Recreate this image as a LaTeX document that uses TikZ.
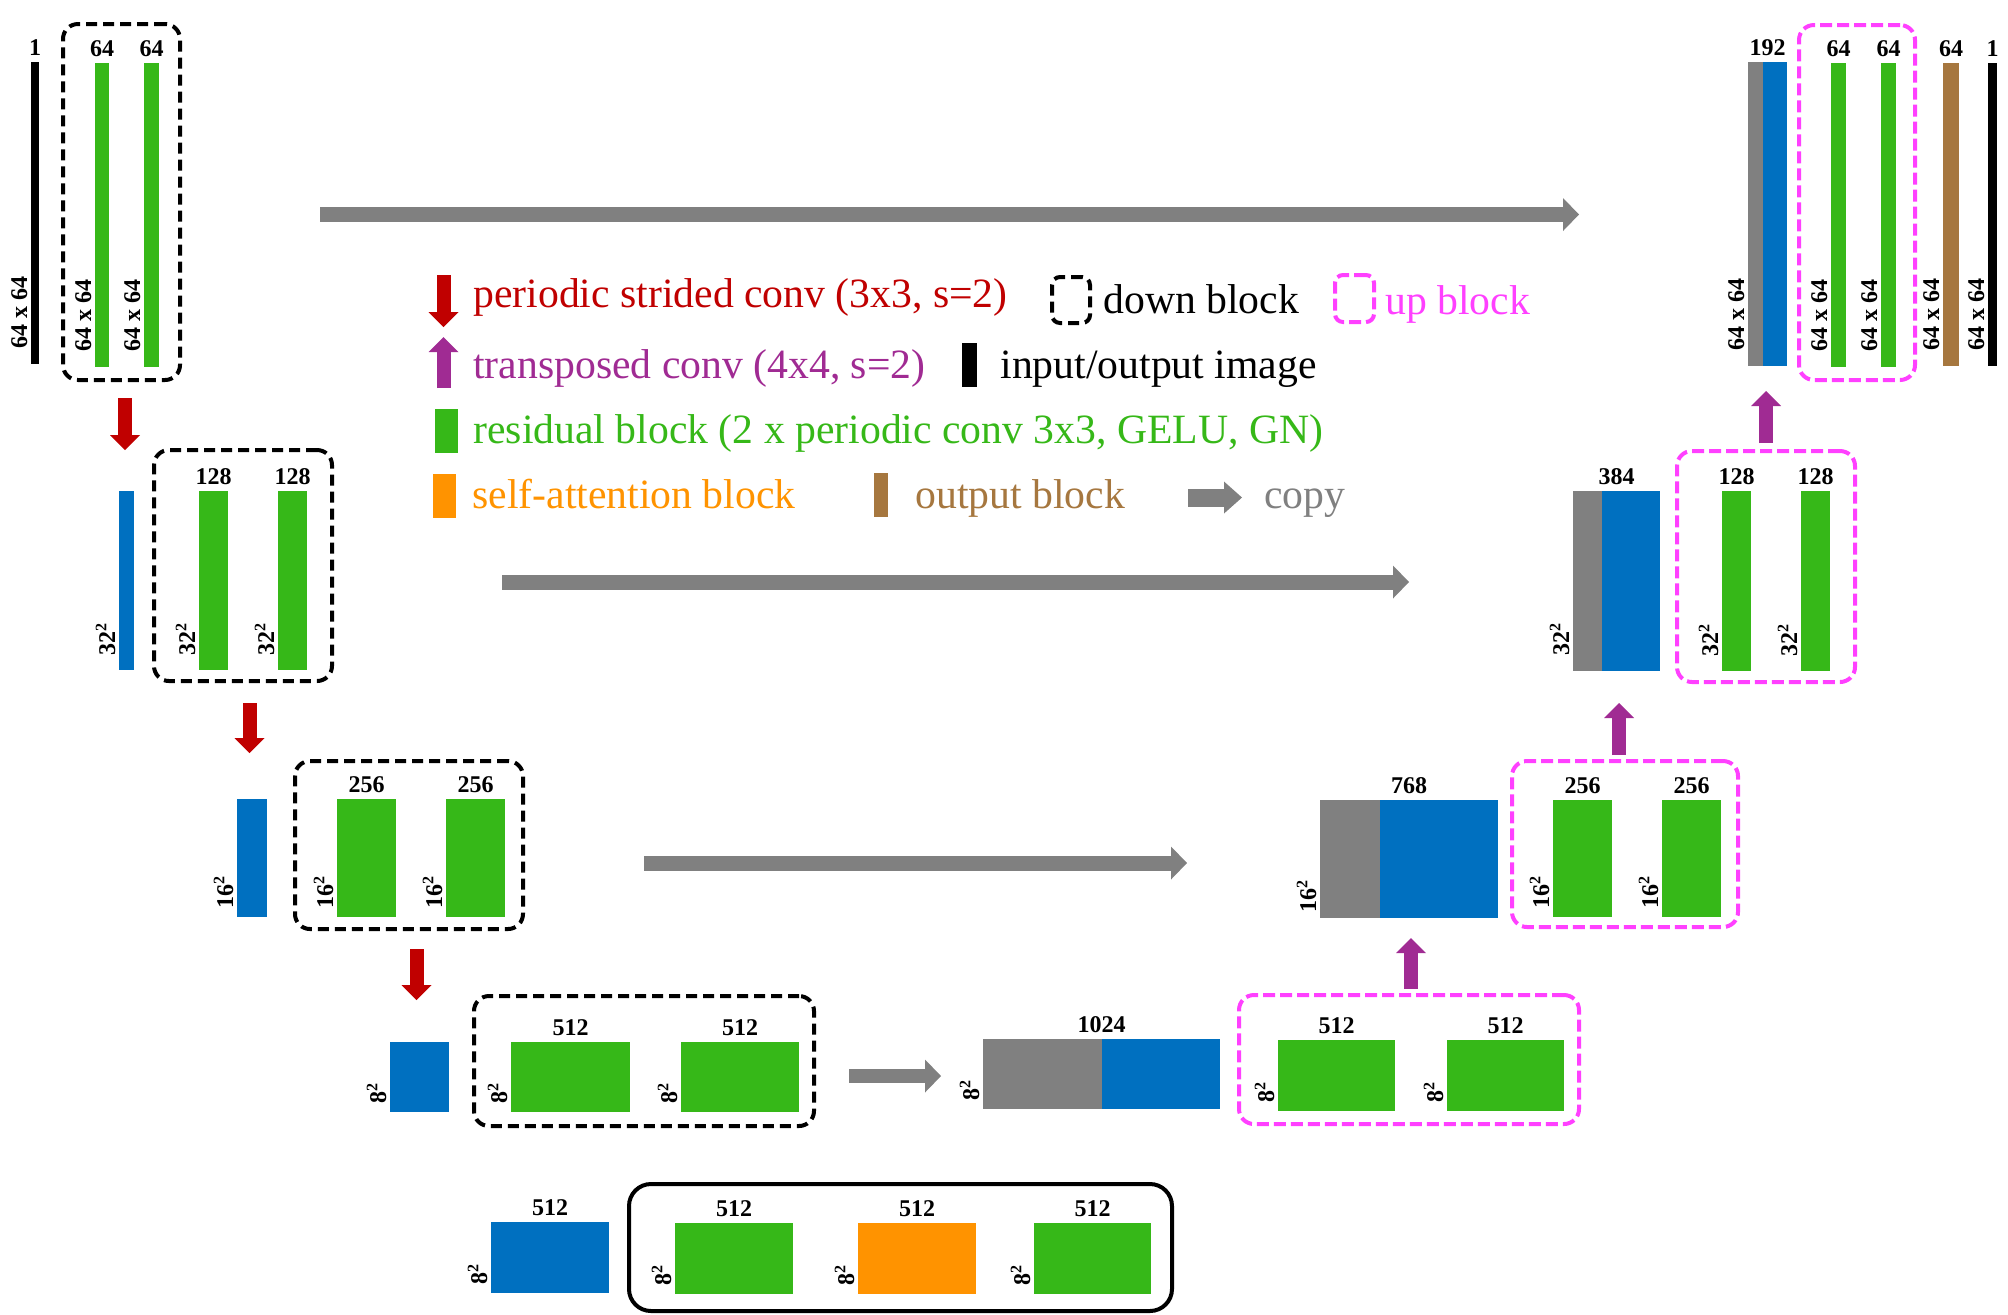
\documentclass[tikz,border=0pt]{standalone}
\usepackage{fontspec}
\setmainfont{Liberation Serif}
\usetikzlibrary{arrows.meta,fit,calc}
\definecolor{cgreen}{RGB}{54,184,24}
\definecolor{cblue}{RGB}{0,112,192}
\definecolor{cgray}{RGB}{128,128,128}
\definecolor{cred}{RGB}{192,0,0}
\definecolor{cpurple}{RGB}{160,43,147}
\definecolor{corange}{RGB}{255,147,0}
\definecolor{cbrown}{RGB}{166,119,63}
\definecolor{cpink}{RGB}{255,64,255}
\tikzset{
  blk/.style={rectangle, inner sep=0pt, outer sep=0pt, draw=none},
  dbox/.style={rectangle, inner sep=0pt, draw=black, line width=2pt, dash pattern=on 5.5pt off 3pt, rounded corners=7.5pt},
  ubox/.style={dbox, draw=cpink, dash pattern=on 6pt off 2.5pt},
  sbox/.style={rectangle, inner sep=0pt, draw=black, line width=2pt, rounded corners=11pt},
  num/.style={font=\fontsize{12}{14}\selectfont\bfseries, inner sep=0pt, outer sep=0pt},
  leg/.style={font=\fontsize{20.85}{24}\selectfont, inner sep=0pt, anchor=base west},
  downarr/.style={draw=cred, line width=7pt, -{Triangle[length=7.5pt,width=15pt,line width=0pt]}},
  uparr/.style={draw=cpurple, line width=7pt, -{Triangle[length=7.5pt,width=15pt,line width=0pt]}},
  cparr/.style={draw=cgray, line width=7.5pt, -{Triangle[length=8pt,width=16.5pt,line width=0pt]}},
}
\newcommand\blk[6]{\node[blk,fill=#6,fit={(#2,#3)(#4,#5)}] (#1) {};}
\newcommand\toplbl[2]{\node[num,anchor=base] at ([yshift=3.5pt]#1) {#2};}
\newcommand\sidelbl[3]{\node[num,rotate=90,anchor=base west] at ([xshift=-2pt,yshift=#3]#1.south west) {#2};}
\newcommand\sq[1]{#1\textsuperscript{2}}
\begin{document}
\begin{tikzpicture}[x=0.5pt,y=-0.5pt]
\useasboundingbox (0,0) rectangle (2008,1314);
% ---------- row 1 left
\blk{in1}{31}{62}{39}{364}{black}
\node[dbox, fit={(63,24)(180,380)}] (d1) {};
\blk{g11}{95}{63}{109}{367}{cgreen}
\blk{g12}{144}{63}{159}{367}{cgreen}
\toplbl{in1.north}{1}
\toplbl{g11.north}{64}
\toplbl{g12.north}{64}
\sidelbl{in1}{64 x 64}{8pt}
\sidelbl{g11}{64 x 64}{8pt}
\sidelbl{g12}{64 x 64}{8pt}
\coordinate (r1s) at (125,398); \coordinate (r1e) at (125,450);
\draw[downarr] (r1s) -- (r1e);
% ---------- row 2 left
\blk{b2}{119}{491}{134}{670}{cblue}
\node[dbox, fit={(154,450)(332,681)}] (d2) {};
\blk{g21}{199}{491}{228}{670}{cgreen}
\blk{g22}{278}{491}{307}{670}{cgreen}
\toplbl{g21.north}{128}
\toplbl{g22.north}{128}
\sidelbl{b2}{\sq{32}}{7.5pt}
\sidelbl{g21}{\sq{32}}{7.5pt}
\sidelbl{g22}{\sq{32}}{7.5pt}
\coordinate (r2s) at (249.5,703); \coordinate (r2e) at (249.5,753);
\draw[downarr] (r2s) -- (r2e);
% ---------- row 3 left
\blk{b3}{237}{799}{267}{917}{cblue}
\node[dbox, fit={(295,761)(523,929)}] (d3) {};
\blk{g31}{337}{799}{396}{917}{cgreen}
\blk{g32}{446}{799}{505}{917}{cgreen}
\toplbl{g31.north}{256}
\toplbl{g32.north}{256}
\sidelbl{b3}{\sq{16}}{4.5pt}
\sidelbl{g31}{\sq{16}}{4.5pt}
\sidelbl{g32}{\sq{16}}{4.5pt}
\coordinate (r3s) at (416.5,949); \coordinate (r3e) at (416.5,1000);
\draw[downarr] (r3s) -- (r3e);
% ---------- row 4 left
\blk{b4}{390}{1042}{449}{1112}{cblue}
\node[dbox, fit={(474,996)(814,1126)}] (d4) {};
\blk{g41}{511}{1042}{630}{1112}{cgreen}
\blk{g42}{681}{1042}{799}{1112}{cgreen}
\toplbl{g41.north}{512}
\toplbl{g42.north}{512}
\sidelbl{b4}{\sq{8}}{4.5pt}
\sidelbl{g41}{\sq{8}}{4.5pt}
\sidelbl{g42}{\sq{8}}{4.5pt}
\coordinate (c4s) at (849,1076); \coordinate (c4e) at (941,1076);
\draw[cparr, line width=7pt] (c4s) -- (c4e);
% ---------- row 4 right
\blk{k4}{983}{1039}{1102}{1109}{cgray}
\blk{u4}{1102}{1039}{1220}{1109}{cblue}
\toplbl{$(k4.north west)!0.5!(u4.north east)$}{1024}
\sidelbl{k4}{\sq{8}}{4.5pt}
\node[ubox, fit={(1239,995)(1579,1124)}] (p4) {};
\blk{gu41}{1278}{1040}{1395}{1111}{cgreen}
\blk{gu42}{1447}{1040}{1564}{1111}{cgreen}
\toplbl{gu41.north}{512}
\toplbl{gu42.north}{512}
\sidelbl{gu41}{\sq{8}}{4.5pt}
\sidelbl{gu42}{\sq{8}}{4.5pt}
\coordinate (p4s) at (1411,989); \coordinate (p4e) at (1411,938);
\draw[uparr] (p4s) -- (p4e);
% ---------- row 3 right
\blk{k3}{1320}{800}{1380}{918}{cgray}
\blk{u3}{1380}{800}{1498}{918}{cblue}
\toplbl{$(k3.north west)!0.5!(u3.north east)$}{768}
\sidelbl{k3}{\sq{16}}{3pt}
\node[ubox, fit={(1512,761)(1738,927)}] (p3) {};
\blk{gu31}{1553}{800}{1612}{917}{cgreen}
\blk{gu32}{1662}{800}{1721}{917}{cgreen}
\toplbl{gu31.north}{256}
\toplbl{gu32.north}{256}
\sidelbl{gu31}{\sq{16}}{4.5pt}
\sidelbl{gu32}{\sq{16}}{4.5pt}
\coordinate (c3s) at (644,863); \coordinate (c3e) at (1187,863);
\draw[cparr] (c3s) -- (c3e);
\coordinate (p3s) at (1619,755); \coordinate (p3e) at (1619,703);
\draw[uparr] (p3s) -- (p3e);
% ---------- row 2 right
\blk{k2}{1573}{491}{1602}{671}{cgray}
\blk{u2}{1602}{491}{1660}{671}{cblue}
\toplbl{$(k2.north west)!0.5!(u2.north east)$}{384}
\sidelbl{k2}{\sq{32}}{8pt}
\node[ubox, fit={(1677,451)(1855,682)}] (p2) {};
\blk{gu21}{1722}{491}{1751}{671}{cgreen}
\blk{gu22}{1801}{491}{1830}{671}{cgreen}
\toplbl{gu21.north}{128}
\toplbl{gu22.north}{128}
\sidelbl{gu21}{\sq{32}}{7.5pt}
\sidelbl{gu22}{\sq{32}}{7.5pt}
\coordinate (c2s) at (502,582); \coordinate (c2e) at (1409,582);
\draw[cparr] (c2s) -- (c2e);
\coordinate (p2s) at (1766,443); \coordinate (p2e) at (1766,391);
\draw[uparr] (p2s) -- (p2e);
% ---------- row 1 right
\blk{k1}{1748}{62}{1763}{366}{cgray}
\blk{u1}{1763}{62}{1787}{366}{cblue}
\toplbl{$(k1.north west)!0.5!(u1.north east)$}{192}
\sidelbl{k1}{64 x 64}{8pt}
\node[ubox, fit={(1799,25)(1915,380)}] (p1) {};
\blk{gu11}{1831}{63}{1846}{367}{cgreen}
\blk{gu12}{1881}{63}{1896}{367}{cgreen}
\toplbl{gu11.north}{64}
\toplbl{gu12.north}{64}
\sidelbl{gu11}{64 x 64}{8pt}
\sidelbl{gu12}{64 x 64}{8pt}
\blk{ob}{1943}{63}{1959}{366}{cbrown}
\blk{out}{1988}{63}{1997}{366}{black}
\toplbl{ob.north}{64}
\toplbl{out.north}{1}
\sidelbl{ob}{64 x 64}{8pt}
\sidelbl{out}{64 x 64}{8pt}
\coordinate (c1s) at (320,214.5); \coordinate (c1e) at (1579,214.5);
\draw[cparr] (c1s) -- (c1e);
% ---------- bottleneck
\blk{b5}{491}{1222}{609}{1293}{cblue}
\node[sbox, fit={(629,1184)(1172,1311)}] (s5) {};
\blk{g51}{675}{1223}{793}{1294}{cgreen}
\blk{at5}{858}{1223}{976}{1294}{corange}
\blk{g52}{1034}{1223}{1151}{1294}{cgreen}
\toplbl{b5.north}{512}
\toplbl{g51.north}{512}
\toplbl{at5.north}{512}
\toplbl{g52.north}{512}
\sidelbl{b5}{\sq{8}}{4.5pt}
\sidelbl{g51}{\sq{8}}{4.5pt}
\sidelbl{at5}{\sq{8}}{4.5pt}
\sidelbl{g52}{\sq{8}}{4.5pt}
% ---------- legend
\coordinate (lrs) at (443.5,275); \coordinate (lre) at (443.5,327);
\draw[downarr] (lrs) -- (lre);
\node[leg, text=cred] (t1) at (473,307) {periodic strided conv (3x3, s=2)};
\node[dbox, rounded corners=4pt, fit={(1052,277)(1090,323)}] (ld) {};
\node[leg] (t1b) at (1103,313) {down block};
\node[ubox, rounded corners=4pt, fit={(1335,275)(1374,322)}] (lu) {};
\node[leg, text=cpink] (t1c) at (1385,314) {up block};
\coordinate (lps) at (443.5,388); \coordinate (lpe) at (443.5,337);
\draw[uparr] (lps) -- (lpe);
\node[leg, text=cpurple] (t2) at (473,378) {transposed conv (4x4, s=2)};
\blk{lio}{962}{343}{977}{387}{black}
\node[leg] (t2b) at (1000,378) {input/output image};
\blk{lg}{435}{409}{458}{453}{cgreen}
\node[leg, text=cgreen] (t3) at (473,443) {residual block (2 x periodic conv 3x3, GELU, GN)};
\blk{lo}{433}{474}{456}{518}{corange}
\node[leg, text=corange] (t4) at (472,508) {self-attention block};
\blk{lb}{874}{473}{888}{517}{cbrown}
\node[leg, text=cbrown] (t4b) at (915,508) {output block};
\coordinate (lcs) at (1188,497.5); \coordinate (lce) at (1242,497.5);
\draw[cparr, line width=9pt, -{Triangle[length=9pt,width=16pt,line width=0pt]}] (lcs) -- (lce);
\node[leg, text=cgray] (t4c) at (1264,508) {copy};
\end{tikzpicture}
\end{document}
